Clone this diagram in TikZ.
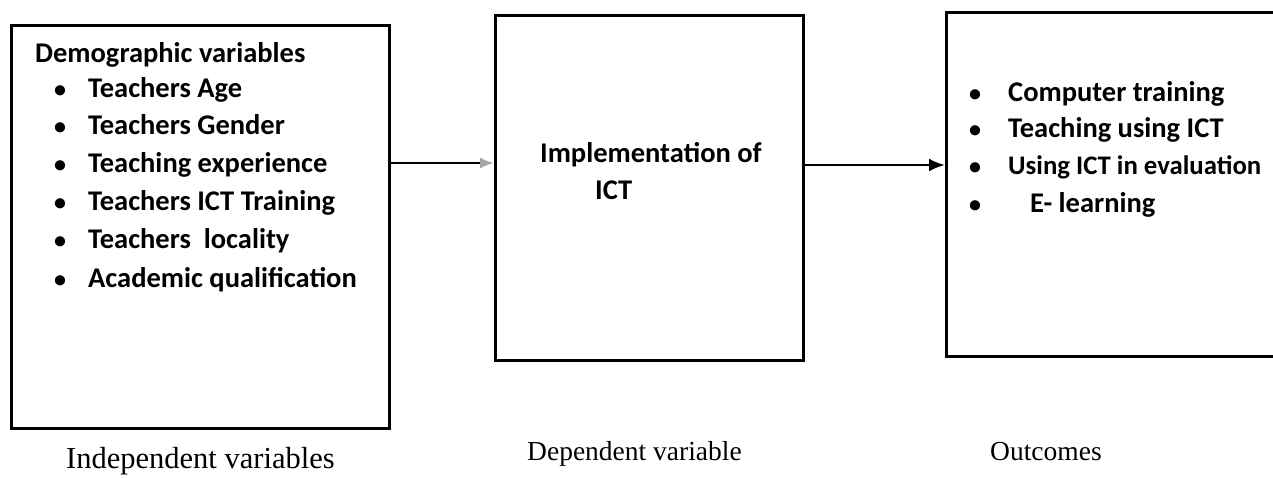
\documentclass[tikz,border=0pt]{standalone}
\usepackage{fontspec}
\setmainfont{Liberation Serif}
\newfontfamily\boxfont{Carlito}[BoldFont={Carlito Bold}]
\usetikzlibrary{arrows.meta}
\begin{document}
\begin{tikzpicture}[x=1pt,y=1pt,
  frame/.style={draw=black, line width=3pt},
  item/.style={anchor=base west, inner sep=0pt, font=\boxfont\bfseries\fontsize{28.5}{33}\selectfont},
  dot/.style={anchor=base, inner sep=0pt, font=\boxfont\bfseries\fontsize{24}{30}\selectfont},
  caption/.style={anchor=base west, inner sep=0pt, font=\fontsize{30.5}{35}\selectfont},
  caption2/.style={anchor=base west, inner sep=0pt, font=\fontsize{27.5}{32}\selectfont},
  conn/.style={line width=2.6pt, -{Latex[length=16pt,width=13pt]}}]
\useasboundingbox (0,0) rectangle (1273,478);
\begin{scope}
\clip (0,0) rectangle (1273,478);
% boxes
\node[frame, minimum width=378pt, minimum height=403pt, inner sep=0pt, anchor=south west] (indep) at (10,48) {};
\node[frame, minimum width=308pt, minimum height=345pt, inner sep=0pt, anchor=south west] (dep) at (494,116) {};
\node[frame, minimum width=345pt, minimum height=344pt, inner sep=0pt, anchor=south west] (out) at (945,120) {};
% left box text
\node[item] (h1) at (35,415) {Demographic variables};
\foreach \t/\y [count=\i] in {Teachers Age/380, Teachers Gender/343, Teaching experience/305, Teachers ICT Training/267, Teachers\ \ locality/229, Academic qualification/190}{
  \node[dot] (b\i) at (60,\y) {•};
  \node[item] (l\i) at (88,\y) {\t};
}
% middle text
\node[item] (m1) at (540,315) {Implementation of};
\node[item] (m2) at (595,278) {ICT};
% right box text
\node[dot] (rb1) at (975,376) {•};
\node[item] (r1) at (1008,376) {Computer training};
\node[dot] (rb2) at (975,340) {•};
\node[item] (r2) at (1008,340) {Teaching using ICT};
\node[dot] (rb3) at (975,303) {•};
\node[item, font=\boxfont\bfseries\fontsize{26.8}{32}\selectfont] (r3) at (1008,303) {Using ICT in evaluation};
\node[dot] (rb4) at (975,265) {•};
\node[item] (r4) at (1030,265) {E- learning};
% connectors
\draw[line width=2.6pt, -{Latex[length=14pt,width=11pt,color=black!35]}] (indep.east |- 0,315) -- (dep.west |- 0,315);
\draw[conn] (dep.east |- 0,313) -- (out.west |- 0,313);
% captions
\node[caption] (c1) at (66,9) {Independent variables};
\node[caption2] (c2) at (527,17) {Dependent variable};
\node[caption2] (c3) at (990,17) {Outcomes};
\end{scope}
\end{tikzpicture}
\end{document}
